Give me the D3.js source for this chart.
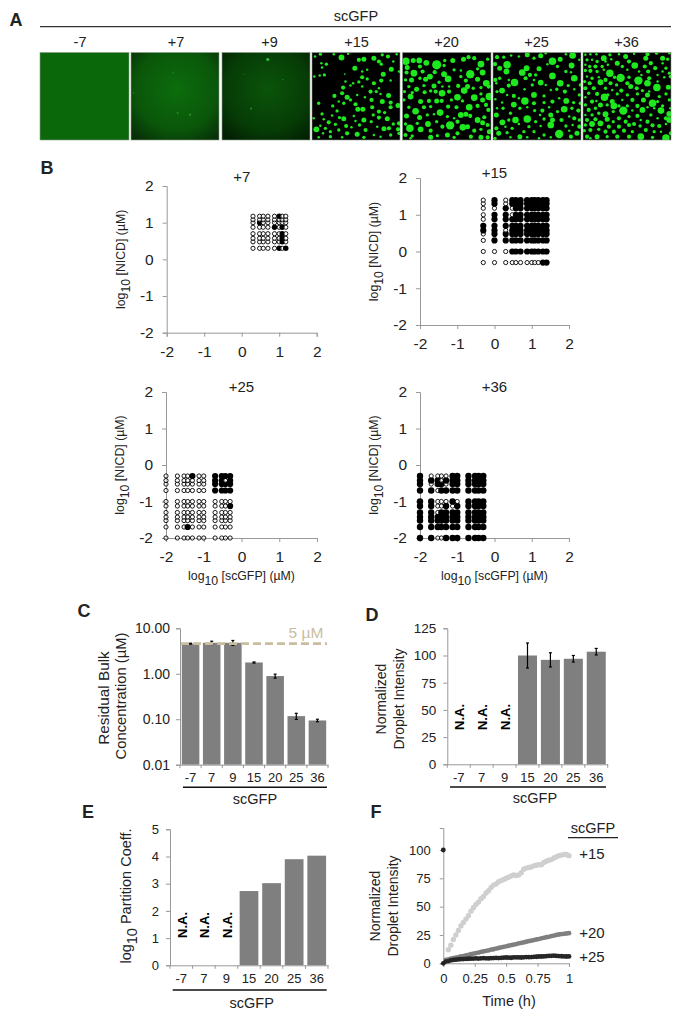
<!DOCTYPE html>
<html><head><meta charset="utf-8">
<script src="https://cdn.jsdelivr.net/npm/d3@7/dist/d3.min.js"></script>
<style>html,body{margin:0;padding:0;background:#fff}svg{display:block}text{font-family:"Liberation Sans",Arial,sans-serif;fill:#222}</style>
</head><body><svg id="c" width="680" height="1019"></svg>
<script>
// ---------- Panel A data ----------
const chargeLabels=["-7","+7","+9","+15","+20","+25","+36"];
const faint7=[[0.53,0.69,1],[0.67,0.71,1.2],[0.03,0.46,.8],[0.48,0.23,.7]];
const faint9=[[0.52,0.08,1.6],[0.33,0.64,1],[0.69,0.31,.7],[0.25,0.25,.5]];
const drops15=[[30,103,4],[14,110,3],[70,103,3],[93,113,7],[113,102,3],[145,120,5],[160,118,6],[190,115,6],[215,105,4],[232,110,5],[258,103,3],[33,130,3],[48,133,4],[35,143,3],[28,167,3],[42,165,4],[12,170,3],[133,145,6],[155,155,3],[170,150,3],[155,172,5],[170,177,4],[205,125,5],[212,133,4],[242,148,6],[248,125,3],[265,155,3],[218,163,6],[190,190,5],[212,182,5],[240,182,3],[103,163,2],[105,185,3],[128,190,3],[145,186,4],[98,203,5],[120,197,3],[155,200,3],[180,215,5],[197,215,4],[210,222,3],[234,227,6],[205,205,3],[95,220,5],[72,228,5],[140,225,3],[110,232,6],[120,240,4],[85,245,3],[100,250,4],[183,240,5],[163,232,3],[215,245,6],[240,248,5],[262,257,6],[67,258,4],[135,253,5],[142,268,6],[157,268,6],[80,273,4],[185,262,5],[205,275,5],[222,278,4],[240,262,5],[25,250,4],[35,282,4],[100,296,6],[87,293,4],[65,287,3],[130,288,3],[160,300,6],[135,303,3],[188,285,4],[205,293,5],[230,296,6],[182,305,4],[10,295,3],[40,298,3],[55,307,5],[30,317,3],[75,313,4],[107,318,5],[123,322,3],[147,315,4],[165,330,5],[200,320,3],[248,312,4],[265,310,5],[18,328,7],[45,325,4],[60,335,4],[85,330,4],[110,340,5],[140,343,6],[190,345,3],[220,326,6],[235,325,5],[262,328,5],[265,340,4],[25,352,3],[60,350,4],[95,352,3],[160,352,4],[210,350,3],[240,345,4],[38,340,3]];
const drops20=[[286,124,9],[308,122,6],[326,122,7],[347,129,7],[378,135,11],[402,122,4],[426,122,6],[458,118,6],[473,112,5],[490,115,5],[510,133,8],[530,118,4],[290,143,6],[328,140,5],[400,137,4],[372,157,5],[288,158,5],[310,160,8],[336,155,5],[358,170,7],[345,178,6],[400,163,7],[412,177,8],[430,150,4],[478,163,10],[450,152,3],[500,147,4],[515,158,7],[285,180,4],[303,180,6],[328,175,4],[450,170,4],[465,182,5],[500,178,6],[526,190,8],[295,200,4],[318,208,6],[340,197,4],[385,187,4],[370,198,6],[395,200,3],[415,200,3],[442,198,5],[470,200,6],[487,205,4],[510,203,4],[533,200,5],[282,215,4],[305,218,4],[342,217,5],[360,213,4],[375,215,5],[394,220,8],[415,215,5],[440,232,8],[460,212,8],[490,233,8],[510,222,4],[535,230,9],[300,230,7],[280,240,4],[330,245,6],[355,243,5],[378,243,6],[393,243,5],[422,240,4],[455,243,4],[475,262,8],[515,240,6],[315,274,8],[295,262,4],[340,262,5],[360,260,4],[388,278,8],[412,260,5],[437,262,5],[500,258,5],[525,255,5],[532,270,5],[288,288,6],[327,293,6],[350,285,4],[370,283,3],[410,290,4],[430,295,3],[450,285,7],[465,283,6],[478,288,5],[500,300,7],[520,292,5],[298,325,9],[320,310,4],[352,312,7],[378,305,4],[418,316,10],[395,320,5],[440,305,5],[470,320,6],[515,308,6],[530,315,5],[285,312,4],[330,328,7],[360,332,5],[410,345,6],[456,322,8],[440,340,5],[490,332,5],[510,328,4],[535,335,6],[285,345,5],[305,348,4],[360,352,6],[380,347,4],[430,352,4],[480,350,5],[510,352,6],[530,352,5],[300,355,3]];
const drops25=[[14,133,5],[20,112,5],[40,112,4],[50,135,9],[28,145,6],[62,107,3],[85,110,3],[110,105,6],[130,115,4],[150,108,6],[165,100,3],[185,124,9],[208,118,6],[225,103,3],[245,107,8],[242,137,7],[265,120,3],[145,147,6],[170,133,3],[200,140,4],[108,145,7],[95,158,8],[118,165,5],[48,155,7],[15,180,5],[28,175,4],[55,180,3],[135,165,4],[185,168,8],[225,155,4],[240,157,3],[250,175,8],[72,188,9],[105,175,5],[130,180,3],[150,188,7],[125,195,4],[55,197,5],[18,190,3],[165,195,3],[208,190,8],[232,197,4],[268,195,4],[35,212,7],[20,215,4],[102,208,3],[130,225,7],[160,228,4],[180,210,3],[198,208,4],[222,215,5],[250,208,3],[265,225,4],[70,228,5],[50,225,3],[85,235,3],[103,243,9],[70,254,7],[130,250,5],[160,248,4],[185,245,5],[205,235,3],[226,243,7],[248,248,4],[268,250,4],[15,238,3],[35,248,3],[20,265,3],[38,265,4],[88,265,4],[110,262,3],[132,272,4],[155,272,5],[175,262,3],[220,268,8],[243,265,4],[262,272,5],[60,280,4],[180,285,6],[200,275,4],[148,285,3],[235,290,3],[18,285,6],[75,300,8],[36,307,7],[110,297,9],[55,300,4],[135,305,4],[160,297,4],[185,300,6],[212,300,5],[250,295,5],[265,300,4],[18,325,5],[45,320,3],[65,325,4],[85,312,3],[115,320,4],[150,318,3],[180,315,8],[225,318,4],[245,315,3],[265,320,5],[25,340,6],[50,338,4],[88,350,6],[100,335,4],[130,335,4],[160,345,4],[205,342,10],[235,332,3],[258,340,6],[14,355,4],[110,352,3],[145,355,3],[180,352,3],[240,350,5],[60,352,3]];
const drops36=[[285,105,3],[300,103,3],[318,103,3],[340,115,7],[358,105,4],[385,103,3],[405,110,6],[430,102,3],[470,103,5],[497,100,4],[515,115,6],[530,118,4],[290,120,4],[305,120,3],[320,125,4],[345,125,3],[362,118,3],[380,130,6],[415,125,5],[465,115,6],[480,130,5],[493,145,5],[515,130,3],[535,100,3],[285,135,3],[298,140,4],[315,140,5],[335,140,4],[352,135,3],[432,137,8],[462,140,5],[472,155,5],[500,165,3],[525,145,4],[285,152,4],[300,153,5],[320,155,4],[340,150,3],[358,160,9],[395,140,4],[410,150,3],[445,155,3],[515,155,3],[535,160,4],[290,170,3],[305,175,4],[325,172,3],[345,180,5],[372,172,4],[390,174,10],[415,172,4],[452,165,3],[475,175,5],[520,172,3],[283,185,4],[298,190,5],[330,187,7],[360,190,5],[378,195,4],[410,190,5],[443,182,10],[470,190,8],[538,170,4],[500,185,3],[285,205,5],[310,205,5],[345,205,4],[365,210,3],[392,212,5],[420,200,6],[438,205,5],[455,212,4],[498,203,9],[532,202,6],[475,215,3],[295,220,4],[320,222,5],[342,232,9],[380,222,4],[410,225,4],[440,222,4],[470,225,6],[505,230,4],[525,222,4],[285,232,3],[305,245,5],[352,225,4],[365,245,6],[395,240,3],[425,240,5],[458,240,6],[485,250,9],[500,245,4],[535,240,4],[285,255,4],[318,243,3],[330,255,6],[350,255,4],[385,258,4],[410,258,4],[440,258,5],[470,262,3],[515,258,4],[538,265,3],[295,270,5],[315,265,4],[345,283,7],[370,258,8],[368,275,4],[398,272,10],[425,272,3],[455,270,7],[490,265,3],[510,272,8],[535,282,7],[285,285,3],[305,285,4],[325,280,4],[385,295,5],[415,290,4],[440,288,5],[480,285,4],[500,295,3],[525,295,5],[290,300,5],[315,298,5],[350,298,6],[368,305,4],[405,305,5],[430,312,5],[450,300,3],[470,305,5],[535,300,7],[285,315,4],[305,312,7],[330,310,7],[355,320,5],[385,320,5],[415,315,5],[448,318,4],[485,316,5],[505,318,5],[525,312,3],[282,332,4],[300,330,5],[325,328,4],[345,335,5],[370,335,5],[400,332,5],[425,335,4],[465,330,5],[490,335,4],[510,335,3],[290,350,5],[320,350,6],[350,350,4],[380,350,5],[415,350,5],[450,350,8],[485,352,4],[525,354,9],[540,340,5],[300,355,3]];

// ---------- Panel B data (concentrations in uM; filled = phase separated) ----------
const x7=[2,3,3.75,5,7.5,10,12,15], y7=[2,3,3.75,5,7.5,10,12,15];
const filled7=[[10,15],[3,10],[7.5,7.5],[12,7.5],[12,5],[12,3.75],[12,3],[10,2],[15,2]];
const x15=[.5,1,2,3,3.75,5,7.5,10,12,15,20,25], y15=[.5,1,2,3,3.75,5,7.5,10,15,20,25];
const open15=[[.5,25],[.5,20],[.5,15],[.5,10],[.5,7.5],[.5,3],[.5,2],[.5,1],[.5,.5],[1,15],[1,1],[1,.5],[2,25],[2,20],[2,3.75],[2,1],[2,.5],[3,15],[3,10],[3,.5],[3.75,.5],[5,.5],[7.5,.5],[10,.5],[12,.5],[15,.5]];
const xLow=[.01,.02,.03,.0375,.05,.075,.1,.2,.3,.375,.5], yLow=[.01,.02,.03,.0375,.05,.075,.1,.2,.3,.375,.5];
const filled25=[[.05,.5],[.0375,.02],[.5,.075],[.2,.5],[.3,.5],[.375,.5],[.5,.5],[.2,.375],[.3,.375],[.5,.375],[.2,.3],[.3,.3],[.375,.3],[.5,.3],[.2,.2],[.3,.2],[.375,.2],[.5,.2]];
const open36=[[.02,.5],[.03,.5],[.0375,.5],[.05,.5],[.0375,.375],[.02,.3],[.05,.3],[.03,.2],[.03,.1],[.0375,.1],[.05,.1],[.1,.1],[.03,.075],[.0375,.075],[.075,.075],[.03,.05],[.03,.01],[.0375,.01]];

// ---------- Bar chart data ----------
const cats=["-7","7","9","15","20","25","36"];
const residual=[4.6,4.8,4.8,1.77,0.89,0.117,0.094];
const residualErr=[0.1,0.4,0.6,0.05,0.09,0.018,0.006];
const residualTicks=[10,1,.1,.01];
const droplet=[null,null,null,100,96,97,103.5];
const dropletErr=[0,0,0,11.5,6.5,3,3];
const partition=[null,null,null,2.73,3.02,3.9,4.03];

// ---------- Panel F data ----------
const t15=[.04,.06,.08,.10,.12,.14,.16,.18,.20,.22,.24,.26,.28,.30,.32,.34,.36,.38,.40,.42,.44,.46,.48,.50,.52,.54,.56,.58,.60,.62,.64,.66,.68,.70,.72,.74,.76,.78,.80,.82,.84,.86,.88,.90,.92,.94,.96,.98,1];
const v15=[12,16,21,25,29,33,36,39,42,46,49,52,54,57,59,62,64,67,69,70,72,73,74,75,76,77,78,77.5,78,80,83,84,84.5,85,86,86.5,87,87,89,90,91,91.5,93,94,95,95.5,96,96,95];
const t2=[.02,.04,.06,.08,.10,.12,.14,.16,.18,.20,.22,.24,.26,.28,.30,.32,.34,.36,.38,.40,.42,.44,.46,.48,.50,.52,.54,.56,.58,.60,.62,.64,.66,.68,.70,.72,.74,.76,.78,.80,.82,.84,.86,.88,.90,.92,.94,.96,.98,1];
const v20=[3,3.5,4,4.6,5,5.5,6,6.4,7,7.4,8,8.5,9,9.4,10,10.5,11,11.4,12,12.4,13,13.5,14,14.5,15,15.5,16,16.4,17,17.5,18,18.4,19,19.5,20,20.5,21,21.4,22,22.5,23,23.4,24,24.4,25,25.4,25.8,26,26.3,26.6];
const v25=[1.5,2,2.5,3,3.2,3.4,3.6,3.7,3.9,4,4.1,4.2,4.3,4.2,4.4,4.5,4.4,4.3,4.5,4.6,4.7,4.6,4.8,5,5.1,5,4.9,5.2,5.3,5.2,5.1,5.3,5.5,5.4,5.5,5.7,5.8,6,6,6.1,6.3,6.5,6.6,6.7,6.5,6.4,6.2,6.1,6,6.1];
const timePointsZero=[[0,100],[0,0]];

// ---------- helpers ----------
const svg=d3.select("#c");
const defs=svg.append("defs");
function txt(x,y,s,size,o={}){
  const t=svg.append("text").attr("x",x).attr("y",y).attr("font-size",size)
    .attr("text-anchor",o.anchor||"middle").attr("dominant-baseline","central");
  if(o.bold)t.attr("font-weight","bold");
  if(o.fill)t.style("fill",o.fill);
  if(o.rot)t.attr("transform",`rotate(${o.rot} ${x} ${y})`);
  t.text(s);return t;
}
function logLabel(x,y,rest,size,rot){
  const t=svg.append("text").attr("x",x).attr("y",y).attr("font-size",size)
    .attr("text-anchor","middle").attr("dominant-baseline","central");
  if(rot)t.attr("transform",`rotate(${rot} ${x} ${y})`);
  t.append("tspan").text("log");
  t.append("tspan").attr("dy",size*.4).text("10");
  t.append("tspan").attr("dy",-size*.4).text(" "+rest);
}
function styleAxis(g,size){
  g.selectAll("path.domain,line").attr("stroke","#999").attr("stroke-width",1);
  g.selectAll("text").attr("font-size",size).style("fill","#222");
}
function rule(x1,x2,y,w,c){svg.append("line").attr("x1",x1).attr("x2",x2).attr("y1",y).attr("y2",y).attr("stroke",c||"#222").attr("stroke-width",w||1.3);}

// ---------- Panel A ----------
txt(16,20,"A",18,{bold:true});
txt(356,16,"scGFP",14.5);
rule(40,671,26.7,1.3,"#333");
const imgX=[[40,129],[131,219],[222,310],[312,400],[402.5,491],[493,581],[583,671]];
const imgY=[52.5,140];
const labelX=[80,176,269.5,356.5,446.5,536.5,626.5];
const fills=[null,["#0c6d0c","#0a560a","#072f07"],["#0a540a","#063c06","#021f02"],null,null,null,null];
const dropSets=[null,null,null,[drops15,5,268],[drops20,276,540],[drops25,8,270],[drops36,278,540]];
imgX.forEach((r,i)=>{
  txt(labelX[i],42,chargeLabels[i],14.5);
  let fill="#0a680a";
  if(i===3||i===4||i===5||i===6)fill="#000";
  if(fills[i]){
    const g=defs.append("radialGradient").attr("id","g"+i).attr("cx","52%").attr("cy","42%").attr("r","72%");
    g.append("stop").attr("offset","0%").attr("stop-color",fills[i][0]);
    g.append("stop").attr("offset","65%").attr("stop-color",fills[i][1]);
    g.append("stop").attr("offset","100%").attr("stop-color",fills[i][2]);
    fill=`url(#g${i})`;
  }
  svg.append("rect").attr("x",r[0]).attr("y",imgY[0]).attr("width",r[1]-r[0]).attr("height",imgY[1]-imgY[0]).attr("fill",fill);
  const cid="clip"+i;
  defs.append("clipPath").attr("id",cid).append("rect").attr("x",r[0]).attr("y",imgY[0]).attr("width",r[1]-r[0]).attr("height",imgY[1]-imgY[0]);
  const grp=svg.append("g").attr("clip-path",`url(#${cid})`);
  if(dropSets[i]){
    const [d,a,b]=dropSets[i];
    const sx=d3.scaleLinear().domain([a,b]).range(r), sy=d3.scaleLinear().domain([98,360]).range(imgY);
    grp.selectAll("circle").data(d).join("circle").attr("cx",p=>sx(p[0])).attr("cy",p=>sy(p[1])).attr("r",p=>p[2]/2.4).attr("fill","#1ee81e");
  }
  if(i===1||i===2){
    const d=i===1?faint7:faint9;
    const sx=d3.scaleLinear().domain([0,1]).range(r), sy=d3.scaleLinear().domain([0,1]).range(imgY);
    grp.selectAll("circle").data(d).join("circle").attr("cx",p=>sx(p[0])).attr("cy",p=>sy(p[1])).attr("r",p=>p[2]).attr("fill",(p,k)=>k===0&&i===2?"#35c035":"#1f901f");
  }
  svg.append("rect").attr("x",r[0]).attr("y",imgY[0]).attr("width",r[1]-r[0]).attr("height",imgY[1]-imgY[0]).attr("fill","none").attr("stroke","#8a9a8a").attr("stroke-width",.6);
});

// ---------- Panel B ----------
txt(47,168,"B",18,{bold:true});
function phase(o){
  const x=d3.scaleLinear().domain([-2,2]).range(o.xr), y=d3.scaleLinear().domain([-2,2]).range(o.yr);
  const ticks=[-2,-1,0,1,2];
  const gy=svg.append("g").attr("transform",`translate(${o.xr[0]},0)`).call(d3.axisLeft(y).tickValues(ticks).tickSize(4).tickPadding(9).tickFormat(d3.format("d")));
  const gx=svg.append("g").attr("transform",`translate(0,${o.yr[0]})`).call(d3.axisBottom(x).tickValues(ticks).tickSize(4).tickPadding(9).tickFormat(d3.format("d")));
  styleAxis(gy,15.5);styleAxis(gx,15.5);
  gx.selectAll(".tick text").text(d=>d);
  gy.selectAll(".tick text").text(d=>d);
  txt((o.xr[0]+o.xr[1])/2,o.titleY,o.title,15);
  logLabel(o.xr[0]-46,(o.yr[0]+o.yr[1])/2,"[NICD] (µM)",12.3,-90);
  if(o.xlabel)logLabel((o.xr[0]+o.xr[1])/2,o.yr[0]+38,"[scGFP] (µM)",12.3);
  const cells=d3.cross(o.xs,o.ys).map(([a,b])=>({a,b,f:o.isFilled(a,b)}));
  svg.append("g").selectAll("circle").data(cells).join("circle")
    .attr("cx",d=>x(Math.log10(d.a))).attr("cy",d=>y(Math.log10(d.b)))
    .attr("r",d=>d.f?o.rf:o.ro).attr("fill",d=>d.f?"#000":"#fff").attr("fill-opacity",d=>d.f?1:.55).attr("stroke","#000").attr("stroke-width",d=>d.f?0:.9);
}
const has=(l,a,b)=>l.some(p=>p[0]===a&&p[1]===b);
phase({xr:[166.7,316.7],yr:[332.7,186],title:"+7",titleY:176,xs:x7,ys:y7,isFilled:(a,b)=>has(filled7,a,b),rf:2.7,ro:2.1});
phase({xr:[420,569],yr:[325,178],title:"+15",titleY:172,xs:x15,ys:y15,isFilled:(a,b)=>!has(open15,a,b),rf:3.1,ro:2.1});
phase({xr:[166,317],yr:[538,392],title:"+25",titleY:386,xs:xLow,ys:yLow,isFilled:(a,b)=>has(filled25,a,b),rf:3.1,ro:2.1,xlabel:true});
phase({xr:[420,569],yr:[538,392],title:"+36",titleY:386,xs:xLow,ys:yLow,isFilled:(a,b)=>!has(open36,a,b),rf:3.2,ro:2.1,xlabel:true});

// ---------- Bar helper ----------
function bars(o){
  const x=d3.scaleBand().domain(cats).range(o.xr).paddingInner(.17).paddingOuter(.085);
  const step=(o.xr[1]-o.xr[0])/cats.length;
  const y=o.y;
  const base=y.range()[0];
  cats.forEach((c,i)=>{
    if(o.values[i]==null)return;
    svg.append("rect").attr("x",x(c)).attr("width",x.bandwidth()).attr("y",y(o.values[i])).attr("height",base-y(o.values[i])).attr("fill","#7f7f7f");
  });
  const gy=svg.append("g").attr("transform",`translate(${o.xr[0]},0)`).call(d3.axisLeft(y).tickValues(o.ticks).tickSize(4).tickPadding(o.pad).tickFormat(o.fmt));
  styleAxis(gy,o.tickFont);
  const gx=svg.append("g").attr("transform",`translate(0,${base})`).call(d3.axisBottom(x).tickSize(0).tickPadding(o.xpad));
  styleAxis(gx,13);
  d3.range(8).forEach(i=>{
    const px=o.xr[0]+i*step;
    gx.append("line").attr("x1",px).attr("x2",px).attr("y1",0).attr("y2",3.5).attr("stroke","#999");
  });
  if(o.err)cats.forEach((c,i)=>{
    if(!o.err[i])return;
    const cx=x(c)+x.bandwidth()/2, y0=y(o.values[i]+o.err[i]), y1=y(o.values[i]-o.err[i]);
    svg.append("line").attr("x1",cx).attr("x2",cx).attr("y1",y0).attr("y2",y1).attr("stroke","#000").attr("stroke-width",1.2);
    [y0,y1].forEach(v=>svg.append("line").attr("x1",cx-1.5).attr("x2",cx+1.5).attr("y1",v).attr("y2",v).attr("stroke","#000").attr("stroke-width",1.2));
  });
  cats.forEach((c,i)=>{
    if(o.values[i]==null&&o.na){
      txt(x(c)+x.bandwidth()/2+o.naDx,o.naY,"N.A.",13,{bold:true,rot:-90}).style("fill","#000");
    }
  });
  rule(o.line[0],o.line[1],o.line[2],1.4,"#111");
  txt(o.scX,o.scY,"scGFP",14.5);
}

// C
txt(84,611,"C",18,{bold:true});
const yC=d3.scaleLog().domain([.01,10]).range([764.7,628.3]);
bars({xr:[180,328],y:yC,values:residual,err:residualErr,ticks:residualTicks,fmt:d3.format(".2f"),tickFont:14,pad:6,xpad:8,line:[183,327,787.3],scX:255,scY:799});
const dash=5*.92;
svg.append("line").attr("x1",181).attr("x2",327).attr("y1",yC(dash)).attr("y2",yC(dash)).attr("stroke","#c9bd9f").attr("stroke-width",2.6).attr("stroke-dasharray","8,4");
txt(306,632,"5 µM",15.5,{fill:"#c9bd9f"});
txt(103,698,"Residual Bulk",15.3,{rot:-90});
txt(121,696,"Concentration (µM)",14.8,{rot:-90});

// D
txt(372,615,"D",18,{bold:true});
bars({xr:[447.3,607.7],y:d3.scaleLinear().domain([0,125]).range([764.3,628.3]),values:droplet,err:dropletErr,ticks:[0,25,50,75,100,125],fmt:d3.format("d"),tickFont:13.5,pad:7,xpad:8,line:[450,606,787],scX:535,scY:798,na:true,naDx:1,naY:717});
txt(381,699,"Normalized",14,{rot:-90});
txt(398.5,699,"Droplet Intensity",14,{rot:-90});

// E
txt(88,812,"E",18,{bold:true});
bars({xr:[170,328],y:d3.scaleLinear().domain([0,5]).range([965.3,829.3]),values:partition,ticks:[0,1,2,3,4,5],fmt:d3.format("d"),tickFont:13,pad:7,xpad:8,line:[172.7,326.7,990],scX:251.7,scY:1002.7,na:true,naDx:1,naY:925});
logLabel(126,896,"Partition Coeff.",14.5,-90);

// F
txt(376,812,"F",18,{bold:true});
const xF=d3.scaleLinear().domain([0,1]).range([443.3,569]);
const yF=d3.scaleLinear().domain([0,119.4]).range([963.3,828]);
const gyF=svg.append("g").attr("transform","translate(443.3,0)").call(d3.axisLeft(yF).tickValues([0,25,50,75,100]).tickSize(3.5).tickPadding(9).tickFormat(d3.format("d")));
styleAxis(gyF,13);
const gxF=svg.append("g").attr("transform","translate(0,963.3)").call(d3.axisBottom(xF).tickValues([0,.25,.5,.75,1]).tickSize(3.5).tickPadding(7).tickFormat(d=>String(d)));
styleAxis(gxF,13);
function series(ts,vs,color,r){
  svg.append("g").selectAll("circle").data(ts.map((t,i)=>[t,vs[i]])).join("circle").attr("cx",d=>xF(d[0])).attr("cy",d=>yF(d[1])).attr("r",r).attr("fill",color);
}
series(t15,v15,"#cfcfcf",2.7);
series(t2,v20,"#7f7f7f",2.4);
series(t2,v25,"#262626",2.4);
svg.append("g").selectAll("circle").data(timePointsZero).join("circle").attr("cx",d=>xF(d[0])).attr("cy",d=>yF(d[1])).attr("r",2.4).attr("fill","#222");
txt(593,828,"scGFP",14.5);
rule(568,618,837.7,1.2,"#222");
txt(592,853,"+15",15);
txt(592,932,"+20",15);
txt(592,956,"+25",15);
txt(509,1001,"Time (h)",14.5);
txt(375,906,"Normalized",14,{rot:-90});
txt(392.7,906,"Droplet Intensity",14,{rot:-90});
</script></body></html>
